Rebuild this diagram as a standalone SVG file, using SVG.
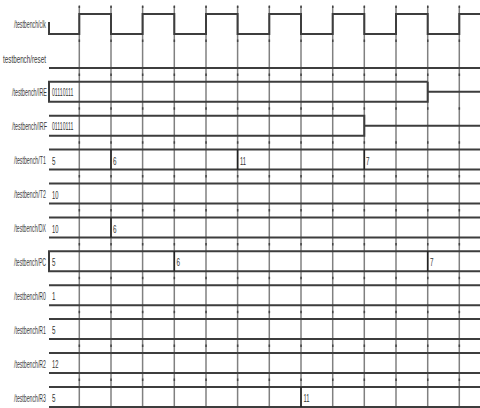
<svg xmlns="http://www.w3.org/2000/svg" width="480" height="408" viewBox="0 0 480 408">
<style>
.bg{fill:#fff}
.grid line{stroke:#808080;stroke-width:1.5}
.tick{fill:#444}
.sig{fill:none;stroke:#3d3d3d;stroke-width:2}
.tr{stroke:#222;stroke-width:1.6}
.lbl{font-family:"Liberation Sans",Arial,sans-serif;font-size:10.5px;fill:#3a3a3a}
.val{font-family:"Liberation Sans",Arial,sans-serif;font-size:10.5px;fill:#333}
</style>
<defs>
<path id="trow" d="M78.6,0h1.5v2.5h-1.5zM110.3,0h1.5v2.5h-1.5zM141.9,0h1.5v2.5h-1.5zM173.6,0h1.5v2.5h-1.5zM205.3,0h1.5v2.5h-1.5zM236.9,0h1.5v2.5h-1.5zM268.6,0h1.5v2.5h-1.5zM300.3,0h1.5v2.5h-1.5zM332,0h1.5v2.5h-1.5zM363.6,0h1.5v2.5h-1.5zM395.3,0h1.5v2.5h-1.5zM427,0h1.5v2.5h-1.5zM458.6,0h1.5v2.5h-1.5z"/>
</defs>
<rect class="bg" width="480" height="408"/>
<g id="grid" class="grid">
<line x1="79.3" y1="6" x2="79.3" y2="408"/>
<line x1="111" y1="6" x2="111" y2="408"/>
<line x1="142.6" y1="6" x2="142.6" y2="408"/>
<line x1="174.3" y1="6" x2="174.3" y2="408"/>
<line x1="206" y1="6" x2="206" y2="408"/>
<line x1="237.6" y1="6" x2="237.6" y2="408"/>
<line x1="269.3" y1="6" x2="269.3" y2="408"/>
<line x1="301" y1="6" x2="301" y2="408"/>
<line x1="332.7" y1="6" x2="332.7" y2="408"/>
<line x1="364.3" y1="6" x2="364.3" y2="408"/>
<line x1="396" y1="6" x2="396" y2="408"/>
<line x1="427.7" y1="6" x2="427.7" y2="408"/>
<line x1="459.3" y1="6" x2="459.3" y2="408"/>
</g>
<g id="ticks" class="tick">
<use href="#trow" y="5.6"/>
<use href="#trow" y="39.5"/>
<use href="#trow" y="73.4"/>
<use href="#trow" y="107.3"/>
<use href="#trow" y="141.2"/>
<use href="#trow" y="175.1"/>
<use href="#trow" y="209"/>
<use href="#trow" y="242.9"/>
<use href="#trow" y="276.8"/>
<use href="#trow" y="310.7"/>
<use href="#trow" y="344.6"/>
<use href="#trow" y="378.5"/>
</g>

<g id="clk">
<text class="lbl" transform="translate(14,28) scale(0.498,1)">/testbench/clk</text>
<path class="sig" d="M49,22V34H79.3V14H111V34H142.6V14H174.3V34H206V14H237.6V34H269.3V14H301V34H332.7V14H364.3V34H396V14H427.7V34H459.3V14H480"/>
</g>
<g id="reset">
<text class="lbl" transform="translate(3,63) scale(0.6,1)">testbench/reset</text>
<path class="sig" d="M49,67.9H480"/>
</g>
<g id="IRE">
<text class="lbl" transform="translate(12,96) scale(0.508,1)">/testbench/IRE</text>
<path class="sig" d="M427.7,81.8H49V101.8H427.7V81.8M427.7,91.8H480"/>
<text class="val" transform="translate(52,96) scale(0.49,1)">01110111</text>
</g>
<g id="IRF">
<text class="lbl" transform="translate(12,130) scale(0.512,1)">/testbench/IRF</text>
<path class="sig" d="M49,115.7H364.3V135.7H49M364.3,125.7H480"/>
<text class="val" transform="translate(52,130) scale(0.49,1)">01110111</text>
</g>
<g id="T1">
<text class="lbl" transform="translate(14,164) scale(0.5,1)">/testbench/T1</text>
<path class="sig" d="M49,149.6H480M49,169.6H480"/>
<path class="tr" d="M111,149.6V169.6M237.6,149.6V169.6M364.3,149.6V169.6"/>
<text class="val" transform="translate(52,164.5) scale(0.6,1)">5</text>
<text class="val" transform="translate(113,164.5) scale(0.6,1)">6</text>
<text class="val" transform="translate(240,164.5) scale(0.55,1)">11</text>
<text class="val" transform="translate(366,164.5) scale(0.6,1)">7</text>
</g>
<g id="T2">
<text class="lbl" transform="translate(14,198) scale(0.5,1)">/testbench/T2</text>
<path class="sig" d="M49,183.5H480M49,203.5H480"/>
<text class="val" transform="translate(52,198.5) scale(0.55,1)">10</text>
</g>
<g id="DX">
<text class="lbl" transform="translate(14,232) scale(0.485,1)">/testbench/DX</text>
<path class="sig" d="M49,217.4H480M49,237.4H480"/>
<path class="tr" d="M111,217.4V237.4"/>
<text class="val" transform="translate(52,232.5) scale(0.55,1)">10</text>
<text class="val" transform="translate(113,232.5) scale(0.6,1)">6</text>
</g>
<g id="PC">
<text class="lbl" transform="translate(14,265.5) scale(0.485,1)">/testbench/PC</text>
<path class="sig" d="M480,251.3H49V271.3H480"/>
<path class="tr" d="M174.3,251.3V271.3M427.7,251.3V271.3"/>
<text class="val" transform="translate(52,266) scale(0.6,1)">5</text>
<text class="val" transform="translate(176.5,266) scale(0.6,1)">6</text>
<text class="val" transform="translate(430,266) scale(0.6,1)">7</text>
</g>
<g id="R0">
<text class="lbl" transform="translate(14,299.5) scale(0.494,1)">/testbench/R0</text>
<path class="sig" d="M49,285.2H480M49,305.2H480"/>
<text class="val" transform="translate(52,300) scale(0.6,1)">1</text>
</g>
<g id="R1">
<text class="lbl" transform="translate(14,333.5) scale(0.494,1)">/testbench/R1</text>
<path class="sig" d="M49,319.1H480M49,339.1H480"/>
<text class="val" transform="translate(52,334) scale(0.6,1)">5</text>
</g>
<g id="R2">
<text class="lbl" transform="translate(14,367.5) scale(0.494,1)">/testbench/R2</text>
<path class="sig" d="M49,353H480M49,373H480"/>
<text class="val" transform="translate(52,368) scale(0.55,1)">12</text>
</g>
<g id="R3">
<text class="lbl" transform="translate(14,401.5) scale(0.494,1)">/testbench/R3</text>
<path class="sig" d="M49,386.9H480M49,406.9H480"/>
<path class="tr" d="M301,386.9V406.9"/>
<text class="val" transform="translate(52,402) scale(0.6,1)">5</text>
<text class="val" transform="translate(303.5,402) scale(0.55,1)">11</text>
</g>
</svg>
